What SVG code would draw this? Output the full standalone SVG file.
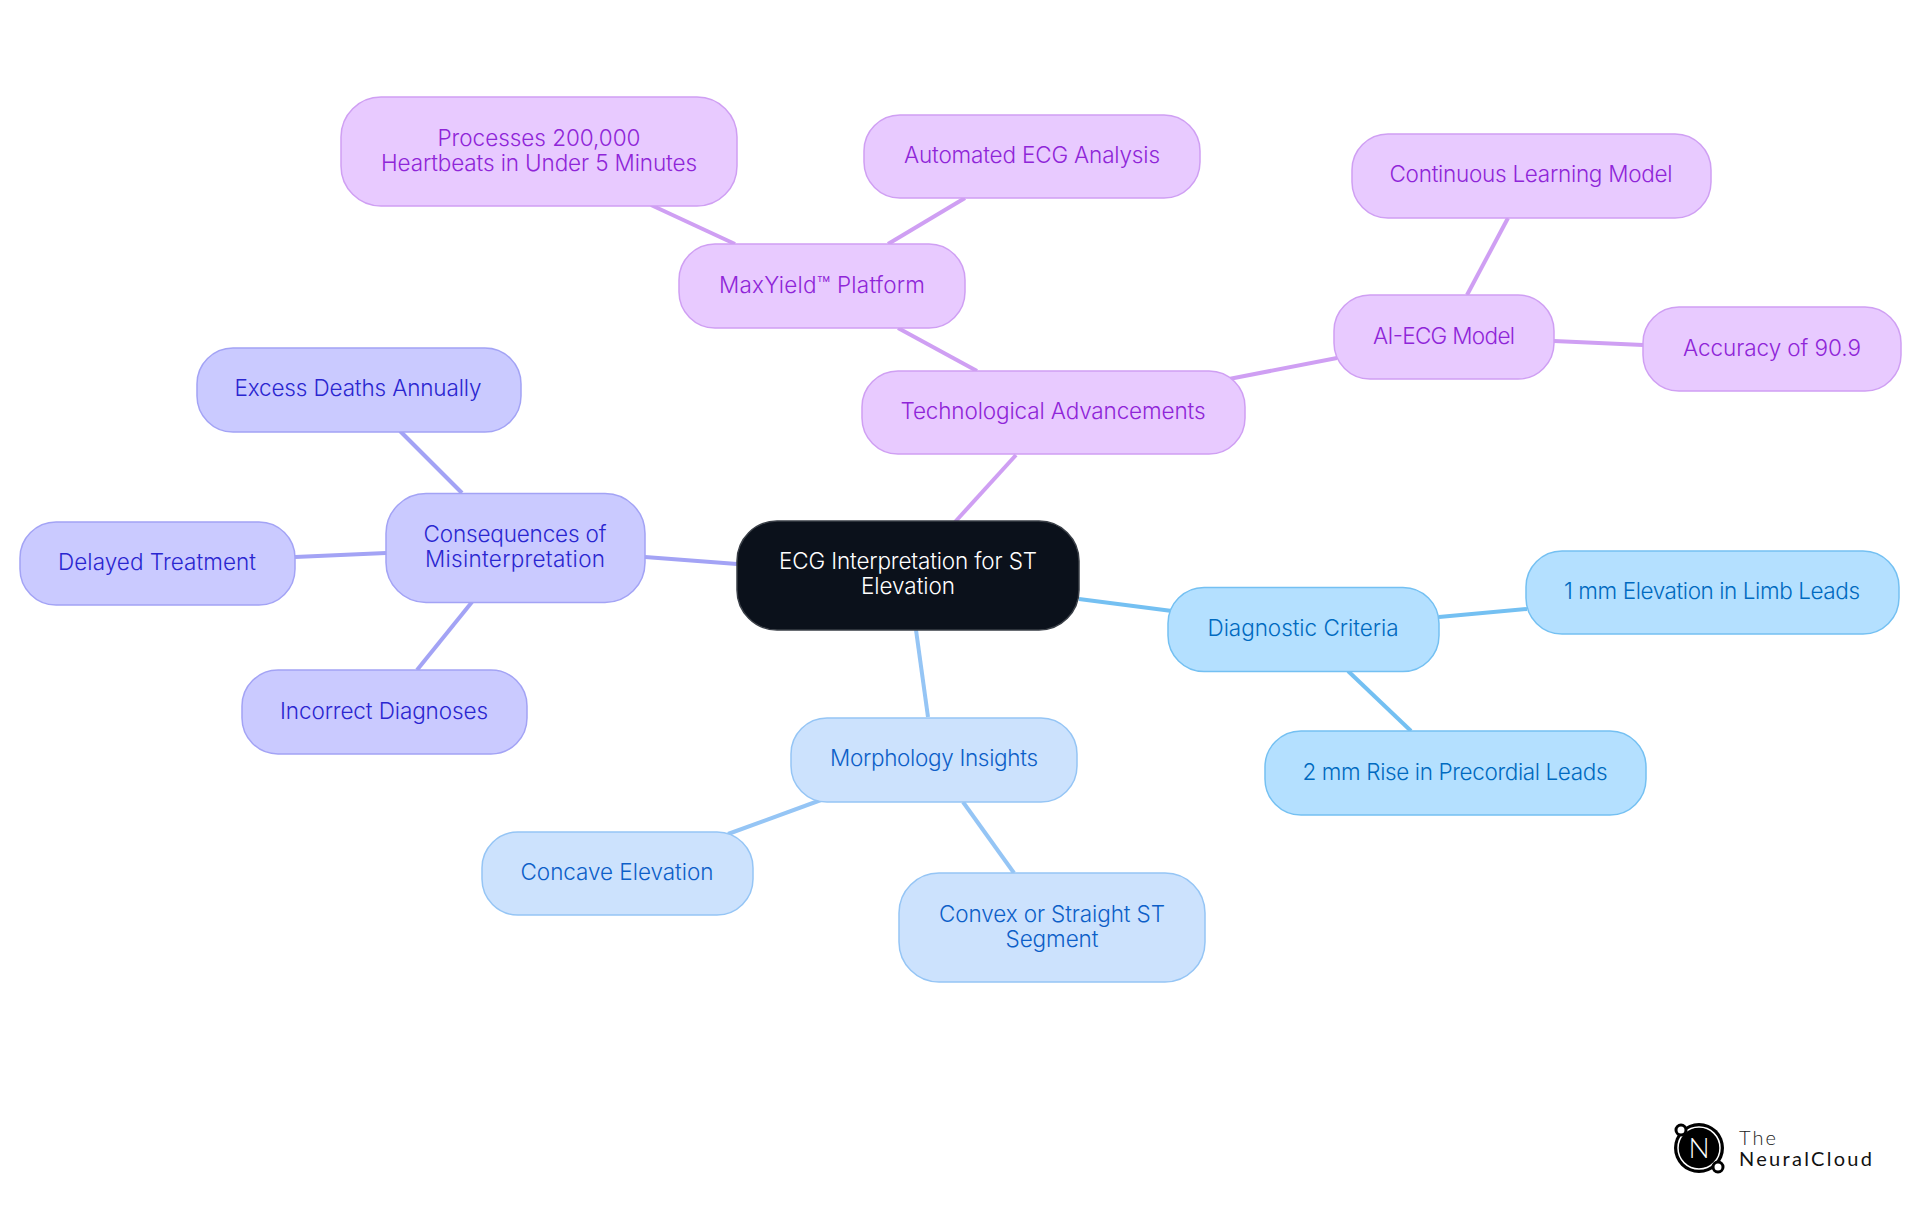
<svg xmlns="http://www.w3.org/2000/svg" width="1920" height="1215" viewBox="0 0 1920 1215">
<style>
text{font-family:"Inter","Noto Sans",sans-serif;font-size:22.5px;font-weight:350;text-anchor:middle}
rect{stroke-width:1.5}
.c line{stroke-width:4;fill:none}
.p rect{fill:#e8caff;stroke:#cf9ff3}.p text{fill:#8f25d8}
.i rect{fill:#cacaff;stroke:#a3a3f5}.i text{fill:#2a26d0}
.b rect{fill:#cce2fd;stroke:#95c5f5}.b text{fill:#0d5fc8}
.s rect{fill:#b4e0ff;stroke:#74c0f2}.s text{fill:#006ac0}
.lp{stroke:#cf9ff3}.li{stroke:#a3a3f5}.lb{stroke:#95c5f5}.ls{stroke:#74c0f2}
</style>
<rect width="1920" height="1215" fill="#fff" style="stroke:none"/>
<g id="connectors" class="c">
<line class="lp" x1="955" y1="522" x2="1016" y2="455"/>
<line class="lp" x1="977" y1="371" x2="898" y2="328"/>
<line class="lp" x1="735" y1="244" x2="651" y2="205"/>
<line class="lp" x1="888" y1="244" x2="965" y2="198"/>
<line class="lp" x1="1229" y1="379" x2="1337" y2="358"/>
<line class="lp" x1="1467" y1="295" x2="1508" y2="218"/>
<line class="lp" x1="1554" y1="341" x2="1643" y2="345"/>
<line class="li" x1="737" y1="564" x2="645" y2="557"/>
<line class="li" x1="462" y1="493" x2="400" y2="431"/>
<line class="li" x1="386" y1="553" x2="295" y2="557"/>
<line class="li" x1="472" y1="602" x2="417" y2="670"/>
<line class="lb" x1="916" y1="630" x2="928" y2="717"/>
<line class="lb" x1="821" y1="800" x2="728" y2="834"/>
<line class="lb" x1="963" y1="802" x2="1014" y2="873"/>
<line class="ls" x1="1079" y1="599" x2="1172" y2="611"/>
<line class="ls" x1="1439" y1="617" x2="1527" y2="609"/>
<line class="ls" x1="1348" y1="671" x2="1411" y2="731"/>
</g>
<g id="root"><rect x="737" y="521" width="342" height="109" rx="40" fill="#0b111b" stroke="#3a3f47"/><text fill="#fff" x="908" y="569" textLength="258">ECG Interpretation for ST</text><text fill="#fff" x="908" y="594" textLength="94">Elevation</text></g>
<g id="tech" class="p"><rect x="862" y="371" width="383" height="83" rx="36"/><text x="1053" y="419" textLength="305">Technological Advancements</text></g>
<g id="maxyield" class="p"><rect x="679" y="244" width="286" height="84" rx="36"/><text x="822" y="293" textLength="206">MaxYield™ Platform</text></g>
<g id="processes" class="p"><rect x="341" y="97" width="396" height="109" rx="40"/><text x="539" y="146" textLength="203">Processes 200,000</text><text x="539" y="171" textLength="316">Heartbeats in Under 5 Minutes</text></g>
<g id="automated" class="p"><rect x="864" y="115" width="336" height="83" rx="36"/><text x="1032" y="163" textLength="256">Automated ECG Analysis</text></g>
<g id="aiecg" class="p"><rect x="1334" y="295" width="220" height="84" rx="36"/><text x="1444" y="344" textLength="142">AI-ECG Model</text></g>
<g id="continuous" class="p"><rect x="1352" y="134" width="359" height="84" rx="36"/><text x="1531" y="182" textLength="283">Continuous Learning Model</text></g>
<g id="accuracy" class="p"><rect x="1643" y="307" width="258" height="84" rx="36"/><text x="1772" y="356" textLength="178">Accuracy of 90.9</text></g>
<g id="consequences" class="i"><rect x="386" y="493.5" width="259" height="109" rx="40"/><text x="515" y="542" textLength="183">Consequences of</text><text x="515" y="567" textLength="180">Misinterpretation</text></g>
<g id="excess" class="i"><rect x="197" y="348" width="324" height="84" rx="36"/><text x="358" y="396" textLength="247">Excess Deaths Annually</text></g>
<g id="delayed" class="i"><rect x="20" y="522" width="275" height="83" rx="36"/><text x="157" y="570" textLength="198">Delayed Treatment</text></g>
<g id="incorrect" class="i"><rect x="242" y="670" width="285" height="84" rx="36"/><text x="384" y="719" textLength="208">Incorrect Diagnoses</text></g>
<g id="morphology" class="b"><rect x="791" y="718" width="286" height="84" rx="36"/><text x="934" y="766" textLength="208">Morphology Insights</text></g>
<g id="concave" class="b"><rect x="482" y="832" width="271" height="83" rx="36"/><text x="617" y="880" textLength="193">Concave Elevation</text></g>
<g id="convex" class="b"><rect x="899" y="873" width="306" height="109" rx="40"/><text x="1052" y="922" textLength="226">Convex or Straight ST</text><text x="1052" y="947" textLength="93">Segment</text></g>
<g id="diagnostic" class="s"><rect x="1168" y="587.5" width="271" height="84" rx="36"/><text x="1303" y="636" textLength="191">Diagnostic Criteria</text></g>
<g id="limb" class="s"><rect x="1526" y="551" width="373" height="83" rx="36"/><text x="1712" y="599" textLength="296">1 mm Elevation in Limb Leads</text></g>
<g id="precordial" class="s"><rect x="1265" y="731" width="381" height="84" rx="36"/><text x="1455" y="780" textLength="305">2 mm Rise in Precordial Leads</text></g>
<g id="logo">
<circle cx="1699" cy="1148" r="25" fill="#000"/><circle cx="1699" cy="1148" r="21" fill="none" stroke="#fff" stroke-width="1.5"/>
<circle cx="1681" cy="1130" r="5" fill="#fff" stroke="#000" stroke-width="3"/><circle cx="1718" cy="1167" r="5" fill="#fff" stroke="#000" stroke-width="3"/>
<text x="1699" y="1158" fill="#fff" style="font-size:28px;font-family:'Lato',sans-serif;font-weight:300">N</text>
<text x="1739" y="1145" fill="#222" textLength="37" style="font-size:20px;text-anchor:start;font-family:'Lato',sans-serif;font-weight:300">The</text>
<text x="1739" y="1166" fill="#111" textLength="133" style="font-size:20px;text-anchor:start;font-family:'Lato',sans-serif;font-weight:400">NeuralCloud</text>
</g>
</svg>
